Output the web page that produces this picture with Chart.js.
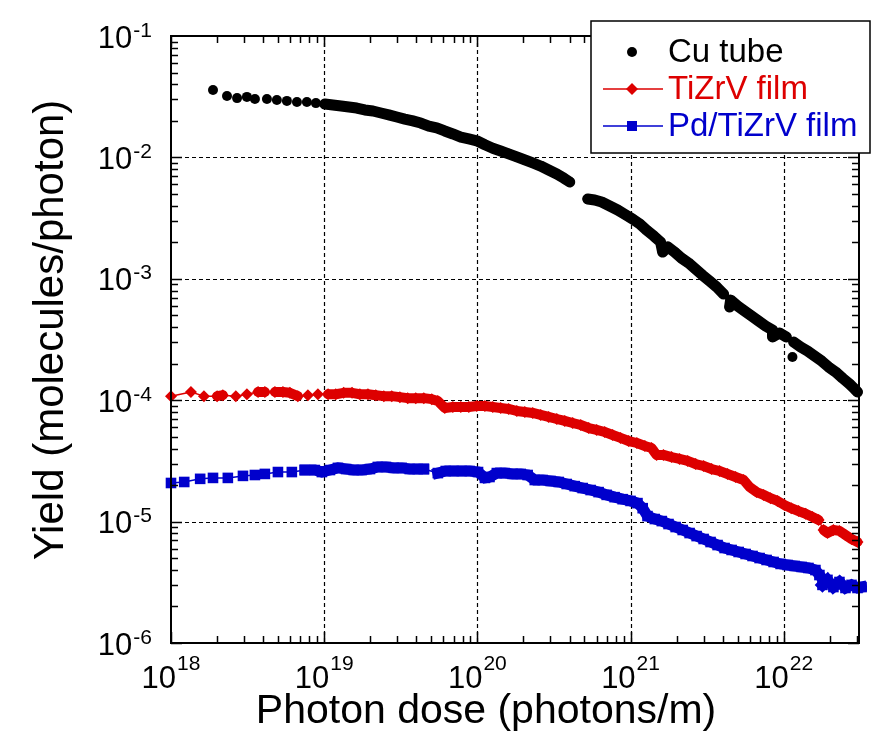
<!DOCTYPE html>
<html>
<head>
<meta charset="utf-8">
<script src="https://cdn.jsdelivr.net/npm/chart.js@4.4.1/dist/chart.umd.min.js"></script>
<style>
  html, body { margin: 0; padding: 0; background: #fff; }
  #wrap { width: 872px; height: 734px; position: relative; }
</style>
</head>
<body>
<div id="wrap"><canvas id="myChart"></canvas></div>
<script>
// values (dose in photons/m, yield in molecules/photon)
const cuDose = [1.88e18, 2.32e18, 2.70e18, 3.13e18, 3.53e18, 4.23e18, 4.91e18, 5.71e18, 6.64e18, 7.71e18,
  8.83e18, 1.01e19, 1.14e19, 1.29e19, 1.45e19, 1.63e19, 1.84e19, 2.08e19, 2.35e19, 2.64e19,
  2.98e19, 3.36e19, 3.79e19, 4.27e19, 4.82e19, 5.43e19, 6.12e19, 6.92e19, 7.80e19, 8.79e19,
  9.91e19, 1.12e20, 1.26e20, 1.42e20, 1.60e20, 1.81e20, 2.04e20, 2.30e20, 2.59e20, 2.92e20,
  3.30e20, 3.66e20, 4.01e20,
  5.25e20, 5.83e20, 6.48e20, 7.31e20, 8.24e20, 9.30e20, 1.03e21,
  1.15e21, 1.27e21, 1.42e21, 1.57e21, 1.62e21, 1.75e21, 1.94e21, 2.15e21, 2.39e21, 2.66e21,
  2.95e21, 3.28e21, 3.65e21, 4.05e21, 4.43e21, 4.50e21, 5.00e21, 5.55e21, 6.17e21, 6.85e21,
  7.61e21, 8.45e21, 8.45e21, 9.39e21, 1.04e22, 1.14e22, 1.16e22, 1.29e22, 1.43e22, 1.59e22,
  1.77e22, 1.96e22, 2.18e22, 2.42e22, 2.69e22, 2.90e22, 3.03e22];
const cuYield = [3.59e-2, 3.2e-2, 3.08e-2, 3.15e-2, 3.03e-2, 3.03e-2, 2.97e-2, 2.92e-2, 2.86e-2, 2.86e-2,
  2.80e-2, 2.75e-2, 2.70e-2, 2.65e-2, 2.60e-2, 2.55e-2, 2.46e-2, 2.41e-2, 2.32e-2, 2.24e-2,
  2.15e-2, 2.07e-2, 2.00e-2, 1.92e-2, 1.81e-2, 1.75e-2, 1.65e-2, 1.56e-2, 1.47e-2, 1.42e-2,
  1.37e-2, 1.27e-2, 1.19e-2, 1.13e-2, 1.07e-2, 1.01e-2, 9.53e-3, 9.0e-3, 8.49e-3, 7.87e-3,
  7.30e-3, 6.76e-3, 6.27e-3,
  4.54e-3, 4.46e-3, 4.29e-3, 3.98e-3, 3.69e-3, 3.36e-3, 3.11e-3,
  2.83e-3, 2.52e-3, 2.25e-3, 2.01e-3, 1.66e-3, 1.83e-3, 1.66e-3, 1.48e-3, 1.35e-3, 1.20e-3,
  1.07e-3, 9.59e-4, 8.56e-4, 7.49e-4, 5.86e-4, 6.68e-4, 5.97e-4, 5.43e-4, 4.94e-4, 4.49e-4,
  4.09e-4, 3.79e-4, 3.32e-4, 3.58e-4, 3.32e-4, 2.27e-4, 3.01e-4, 2.74e-4, 2.54e-4, 2.31e-4,
  2.10e-4, 1.88e-4, 1.71e-4, 1.52e-4, 1.36e-4, 1.24e-4, 1.17e-4];

const tiDose = [1.00e18, 1.35e18, 1.64e18, 2.00e18, 2.18e18, 2.65e18, 3.13e18, 3.70e18, 4.10e18, 4.77e18,
  5.38e18, 5.97e18, 6.73e18, 7.83e18, 9.10e18, 1.06e19, 1.19e19, 1.34e19, 1.52e19, 1.71e19,
  1.93e19, 2.17e19, 2.45e19, 2.76e19, 3.12e19, 3.51e19, 3.96e19, 4.47e19, 5.04e19, 5.52e19,
  6.13e19, 6.92e19, 7.80e19, 8.79e19, 9.91e19, 1.12e20, 1.26e20, 1.42e20, 1.60e20, 1.81e20,
  2.04e20, 2.30e20, 2.59e20, 2.92e20, 3.30e20, 3.72e20, 4.19e20, 4.73e20, 5.33e20, 6.01e20,
  6.78e20, 7.64e20, 8.61e20, 9.72e20, 1.10e21, 1.24e21, 1.37e21, 1.48e21, 1.64e21, 1.85e21,
  2.09e21, 2.36e21, 2.66e21, 3.00e21, 3.38e21, 3.81e21, 4.30e21, 4.85e21, 5.47e21, 5.99e21,
  6.65e21, 7.39e21, 8.20e21, 9.11e21, 1.01e22, 1.12e22, 1.25e22, 1.39e22, 1.54e22, 1.69e22,
  1.82e22, 1.93e22, 2.11e22, 2.31e22, 2.53e22, 2.77e22, 3.03e22];
const tiYield = [1.08e-4, 1.17e-4, 1.08e-4, 1.08e-4, 1.10e-4, 1.08e-4, 1.12e-4, 1.17e-4, 1.17e-4, 1.17e-4,
  1.17e-4, 1.15e-4, 1.08e-4, 1.10e-4, 1.12e-4, 1.12e-4, 1.12e-4, 1.15e-4, 1.15e-4, 1.12e-4,
  1.12e-4, 1.10e-4, 1.08e-4, 1.08e-4, 1.06e-4, 1.04e-4, 1.04e-4, 1.04e-4, 1.02e-4, 9.84e-5,
  8.62e-5, 8.79e-5, 8.79e-5, 8.79e-5, 8.95e-5, 8.95e-5, 8.79e-5, 8.62e-5, 8.47e-5, 8.15e-5,
  8.0e-5, 7.85e-5, 7.56e-5, 7.28e-5, 7.0e-5, 6.75e-5, 6.49e-5, 6.25e-5, 5.90e-5, 5.69e-5,
  5.47e-5, 5.17e-5, 4.89e-5, 4.61e-5, 4.44e-5, 4.20e-5, 4.04e-5, 3.54e-5, 3.54e-5, 3.40e-5,
  3.28e-5, 3.16e-5, 2.98e-5, 2.87e-5, 2.71e-5, 2.61e-5, 2.47e-5, 2.33e-5, 2.20e-5, 1.93e-5,
  1.75e-5, 1.66e-5, 1.56e-5, 1.48e-5, 1.37e-5, 1.29e-5, 1.22e-5, 1.16e-5, 1.09e-5, 1.03e-5,
  8.53e-6, 8.05e-6, 8.53e-6, 8.38e-6, 7.76e-6, 7.19e-6, 6.79e-6];

const pdDose = [1.00e18, 1.22e18, 1.55e18, 1.88e18, 2.35e18, 2.95e18, 3.53e18, 4.10e18, 4.99e18, 6.15e18,
  7.48e18, 8.69e18, 9.66e18, 1.09e19, 1.23e19, 1.39e19, 1.56e19, 1.76e19, 1.99e19, 2.24e19,
  2.53e19, 2.85e19, 3.21e19, 3.62e19, 4.08e19, 4.47e19, 5.52e19, 6.22e19, 7.02e19, 7.91e19,
  8.92e19, 1.01e20, 1.12e20, 1.20e20, 1.34e20, 1.51e20, 1.70e20, 1.92e20, 2.13e20, 2.37e20,
  2.67e20, 3.01e20, 3.40e20, 3.83e20, 4.32e20, 4.87e20, 5.49e20, 6.19e20, 6.98e20, 7.87e20,
  8.88e20, 1.00e21, 1.11e21, 1.20e21, 1.29e21, 1.44e21, 1.60e21, 1.77e21, 1.97e21, 2.19e21,
  2.43e21, 2.70e21, 3.00e21, 3.33e21, 3.70e21, 4.11e21, 4.57e21, 5.08e21, 5.64e21, 6.26e21,
  6.96e21, 7.73e21, 8.59e21, 9.54e21, 1.06e22, 1.18e22, 1.31e22, 1.45e22, 1.61e22, 1.71e22,
  1.79e22, 1.93e22, 2.11e22, 2.31e22, 2.53e22, 2.77e22, 3.03e22, 3.22e22];
const pdYield = [2.08e-5, 2.12e-5, 2.25e-5, 2.29e-5, 2.29e-5, 2.38e-5, 2.42e-5, 2.47e-5, 2.56e-5, 2.56e-5,
  2.66e-5, 2.66e-5, 2.56e-5, 2.66e-5, 2.77e-5, 2.71e-5, 2.66e-5, 2.66e-5, 2.71e-5, 2.82e-5,
  2.82e-5, 2.77e-5, 2.77e-5, 2.71e-5, 2.71e-5, 2.71e-5, 2.51e-5, 2.61e-5, 2.61e-5, 2.61e-5,
  2.61e-5, 2.56e-5, 2.29e-5, 2.33e-5, 2.51e-5, 2.51e-5, 2.47e-5, 2.47e-5, 2.42e-5, 2.20e-5,
  2.20e-5, 2.16e-5, 2.12e-5, 2.04e-5, 1.96e-5, 1.89e-5, 1.82e-5, 1.75e-5, 1.66e-5, 1.59e-5,
  1.53e-5, 1.48e-5, 1.42e-5, 1.29e-5, 1.11e-5, 1.05e-5, 1.01e-5, 9.55e-6, 9.02e-6, 8.53e-6,
  8.05e-6, 7.60e-6, 7.19e-6, 6.79e-6, 6.41e-6, 6.06e-6, 5.84e-6, 5.62e-6, 5.41e-6, 5.21e-6,
  5.01e-6, 4.83e-6, 4.65e-6, 4.48e-6, 4.39e-6, 4.31e-6, 4.23e-6, 4.15e-6, 3.99e-6, 3.63e-6,
  3.01e-6, 3.31e-6, 2.89e-6, 3.18e-6, 2.84e-6, 3.01e-6, 2.84e-6, 2.89e-6];

const seriesNames = ['Cu tube', 'TiZrV film', 'Pd/TiZrV film'];
const seriesColors = ['#000000', '#dd0000', '#0000cc'];
const xExponents = [18, 19, 20, 21, 22];
const yExponents = [-1, -2, -3, -4, -5, -6];
const xTitle = 'Photon dose (photons/m)';
const yTitle = 'Yield (molecules/photon)';

const FONT = '"Liberation Sans", Arial, Helvetica, sans-serif';
const toPoints = (xs, ys) => xs.map((v, i) => ({ x: v, y: ys[i] }));

// where the measured points are packed closely the original markers merge into a band
const dense = (ctx, limit) => Math.hypot(ctx.p1.x - ctx.p0.x, ctx.p1.y - ctx.p0.y) < limit;
// Cu dots stay separate below ~1e19 photons/m
const cuDense = ctx => ctx.p0.parsed.x >= 9e18 && dense(ctx, 12);

// draws "10" with a raised exponent
function drawPow(ctx, exp, x, baseline, align, raise) {
  ctx.font = '31px ' + FONT;
  const w10 = ctx.measureText('10').width;
  ctx.font = '21px ' + FONT;
  const sExp = String(exp);
  const wExp = ctx.measureText(sExp).width;
  const total = w10 + 1 + wExp;
  const left = align === 'center' ? x - total / 2 : x - total;
  ctx.textAlign = 'left';
  ctx.textBaseline = 'alphabetic';
  ctx.font = '31px ' + FONT;
  ctx.fillText('10', left, baseline);
  ctx.font = '21px ' + FONT;
  ctx.fillText(sExp, left + w10 + 1, baseline - raise);
}

const axesDeco = {
  id: 'axesDeco',
  beforeDatasetsDraw(chart) {
    const { ctx, chartArea: a, scales: { x, y } } = chart;
    ctx.save();
    ctx.strokeStyle = '#000';
    ctx.lineWidth = 1.2;
    ctx.setLineDash([4, 3]);
    xExponents.forEach(e => {
      const px = Math.round(x.getPixelForValue(Math.pow(10, e))) + 0.5;
      if (px <= a.left + 1 || px >= a.right - 1) return;
      ctx.beginPath(); ctx.moveTo(px, a.top); ctx.lineTo(px, a.bottom); ctx.stroke();
    });
    yExponents.forEach(e => {
      const py = Math.round(y.getPixelForValue(Math.pow(10, e))) + 0.5;
      if (py <= a.top + 1 || py >= a.bottom - 1) return;
      ctx.beginPath(); ctx.moveTo(a.left, py); ctx.lineTo(a.right, py); ctx.stroke();
    });
    ctx.restore();
  },
  afterDatasetsDraw(chart) {
    const { ctx, chartArea: a, scales: { x, y } } = chart;
    ctx.save();
    ctx.strokeStyle = '#000';
    ctx.lineWidth = 2;
    ctx.strokeRect(a.left, a.top, a.right - a.left, a.bottom - a.top);

    // inward ticks on all four sides
    ctx.lineWidth = 1.5;
    for (let e = 18; e <= 22; e++) {
      for (let m = 1; m <= 9; m++) {
        const v = m * Math.pow(10, e);
        if (v < x.min || v > x.max) continue;
        const px = Math.round(x.getPixelForValue(v)) + 0.5;
        const len = m === 1 ? 11 : 7;
        ctx.beginPath();
        ctx.moveTo(px, a.bottom); ctx.lineTo(px, a.bottom - len);
        ctx.moveTo(px, a.top); ctx.lineTo(px, a.top + len);
        ctx.stroke();
      }
    }
    for (let e = -6; e <= -2; e++) {
      for (let m = 1; m <= 9; m++) {
        const v = m * Math.pow(10, e);
        if (v < y.min || v > y.max) continue;
        const py = Math.round(y.getPixelForValue(v)) + 0.5;
        const len = m === 1 ? 11 : 7;
        ctx.beginPath();
        ctx.moveTo(a.left, py); ctx.lineTo(a.left + len, py);
        ctx.moveTo(a.right, py); ctx.lineTo(a.right - len, py);
        ctx.stroke();
      }
    }

    // tick labels
    ctx.fillStyle = '#000';
    xExponents.forEach(e => {
      const px = x.getPixelForValue(Math.pow(10, e));
      drawPow(ctx, e, px, a.bottom + 45, 'center', 18);
    });
    yExponents.forEach(e => {
      const py = y.getPixelForValue(Math.pow(10, e));
      drawPow(ctx, e, a.left - 19, py + 11.5, 'right', 11);
    });

    // axis titles
    ctx.textAlign = 'center';
    ctx.textBaseline = 'alphabetic';
    ctx.font = '41px ' + FONT;
    ctx.fillText(xTitle, 486, 723);
    ctx.save();
    ctx.translate(63, 330);
    ctx.rotate(-Math.PI / 2);
    ctx.font = '42px ' + FONT;
    ctx.fillText(yTitle, 0, 0);
    ctx.restore();

    // legend box
    const bx = 591, by = 21, bw = 279, bh = 132;
    ctx.fillStyle = '#fff';
    ctx.fillRect(bx, by, bw, bh);
    ctx.strokeStyle = '#000';
    ctx.lineWidth = 1.5;
    ctx.strokeRect(bx, by, bw, bh);
    const rows = [52, 89, 126];
    const mx = 632;
    ctx.font = '33px ' + FONT;
    ctx.textAlign = 'left';
    ctx.textBaseline = 'middle';
    rows.forEach((ry, i) => {
      ctx.fillStyle = seriesColors[i];
      ctx.strokeStyle = seriesColors[i];
      if (i > 0) {
        ctx.lineWidth = 1.5;
        ctx.beginPath(); ctx.moveTo(603, ry); ctx.lineTo(663, ry); ctx.stroke();
      }
      ctx.beginPath();
      if (i === 0) {
        ctx.arc(mx, ry, 5, 0, Math.PI * 2);
      } else if (i === 1) {
        ctx.moveTo(mx, ry - 6); ctx.lineTo(mx + 6, ry); ctx.lineTo(mx, ry + 6); ctx.lineTo(mx - 6, ry);
        ctx.closePath();
      } else {
        ctx.rect(mx - 5, ry - 5, 10, 10);
      }
      ctx.fill();
      ctx.fillText(seriesNames[i], 668, ry + 1);
    });
    ctx.restore();
  }
};

const data = {
  datasets: [
    {
      label: seriesNames[0],
      data: toPoints(cuDose, cuYield),
      showLine: true,
      borderColor: seriesColors[0],
      borderCapStyle: 'round',
      borderJoinStyle: 'round',
      segment: {
        borderWidth: ctx => cuDense(ctx) ? 11 : 1,
        borderColor: ctx => cuDense(ctx) ? seriesColors[0] : 'rgba(0,0,0,0)'
      },
      pointStyle: 'circle',
      pointRadius: 5,
      pointBackgroundColor: seriesColors[0],
      pointBorderColor: seriesColors[0],
      pointBorderWidth: 0,
      clip: 8
    },
    {
      label: seriesNames[1],
      data: toPoints(tiDose, tiYield),
      showLine: true,
      borderColor: seriesColors[1],
      borderCapStyle: 'round',
      borderJoinStyle: 'round',
      segment: {
        borderWidth: ctx => dense(ctx, 10) ? 10 : 1.5
      },
      pointStyle: 'rectRot',
      pointRadius: 6,
      pointBackgroundColor: seriesColors[1],
      pointBorderColor: seriesColors[1],
      pointBorderWidth: 0,
      clip: 8
    },
    {
      label: seriesNames[2],
      data: toPoints(pdDose, pdYield),
      showLine: true,
      borderColor: seriesColors[2],
      borderCapStyle: 'square',
      borderJoinStyle: 'miter',
      segment: {
        borderWidth: ctx => dense(ctx, 10) ? 11 : 1.5
      },
      pointStyle: 'rect',
      pointRadius: 7.5,
      pointBackgroundColor: seriesColors[2],
      pointBorderColor: seriesColors[2],
      pointBorderWidth: 0,
      clip: 8
    }
  ]
};

const config = {
  type: 'scatter',
  data: data,
  options: {
    responsive: true,
    maintainAspectRatio: false,
    animation: false,
    layout: { padding: { left: 171, right: 13, top: 36, bottom: 91 } },
    plugins: { legend: { display: false }, tooltip: { enabled: false } },
    scales: {
      x: { type: 'logarithmic', min: 1e18, max: 3.1e22, display: false },
      y: { type: 'logarithmic', min: 1e-6, max: 1e-1, display: false }
    }
  },
  plugins: [axesDeco]
};

const myChart = new Chart(document.getElementById('myChart'), config);
</script>
</body>
</html>
